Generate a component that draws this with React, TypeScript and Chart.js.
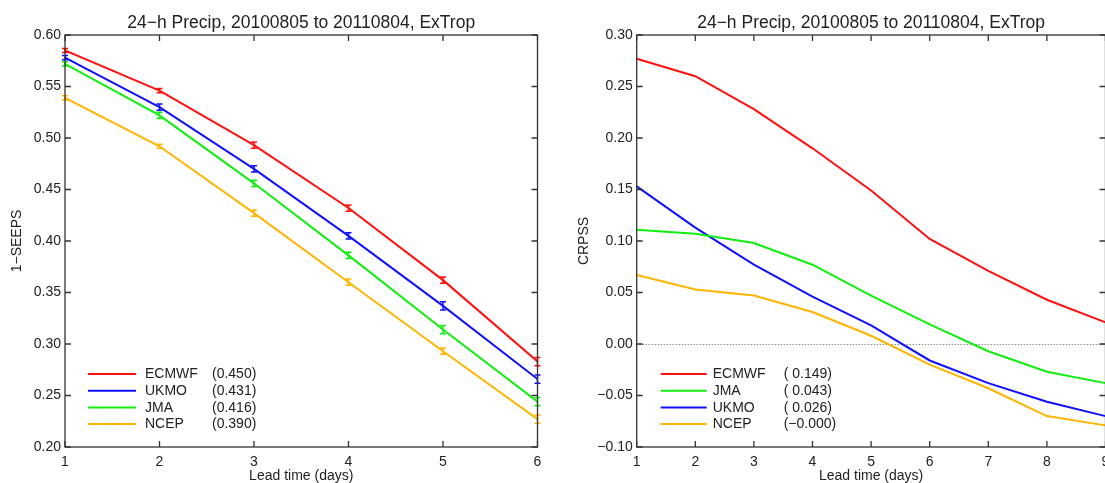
import React, { useEffect, useRef } from "react";
import { Chart, registerables } from "chart.js";

Chart.register(...registerables);

const TITLE = "24\u2212h Precip, 20100805 to 20110804, ExTrop";
const X_TITLE = "Lead time (days)";

// ---------- Left panel: 1-SEEPS ----------
const leadDaysLeft = [1, 2, 3, 4, 5, 6];
const seepsECMWF = [0.585, 0.546, 0.493, 0.432, 0.362, 0.283];
const seepsUKMO = [0.578, 0.53, 0.47, 0.405, 0.337, 0.266];
const seepsJMA = [0.572, 0.522, 0.456, 0.386, 0.314, 0.244];
const seepsNCEP = [0.539, 0.492, 0.427, 0.36, 0.293, 0.227];
const seepsErrECMWF = [0.002, 0.002, 0.003, 0.003, 0.003, 0.004];
const seepsErrUKMO = [0.002, 0.003, 0.003, 0.003, 0.004, 0.004];
const seepsErrJMA = [0.002, 0.003, 0.003, 0.003, 0.004, 0.004];
const seepsErrNCEP = [0.002, 0.002, 0.003, 0.003, 0.003, 0.004];
const seepsNames = ["ECMWF", "UKMO", "JMA", "NCEP"];
const seepsScores = ["(0.450)", "(0.431)", "(0.416)", "(0.390)"];

// ---------- Right panel: CRPSS ----------
const leadDaysRight = [1, 2, 3, 4, 5, 6, 7, 8, 9];
const crpssECMWF = [0.277, 0.26, 0.228, 0.19, 0.149, 0.102, 0.071, 0.043, 0.021];
const crpssJMA = [0.111, 0.107, 0.098, 0.077, 0.047, 0.019, -0.007, -0.027, -0.038];
const crpssUKMO = [0.153, 0.113, 0.077, 0.046, 0.018, -0.016, -0.038, -0.056, -0.07];
const crpssNCEP = [0.067, 0.053, 0.047, 0.031, 0.008, -0.02, -0.043, -0.07, -0.079];
const crpssNames = ["ECMWF", "JMA", "UKMO", "NCEP"];
const crpssScores = ["( 0.149)", "( 0.043)", "( 0.026)", "(\u22120.000)"];

const RED = "#ff1010";
const BLUE = "#1010ff";
const GREEN = "#10ee10";
const ORANGE = "#ffb400";

const FONT = "'Liberation Sans', Arial, Helvetica, sans-serif";
const TEXT = "#222222";
const FRAME = "#333333";

type Series = { name: string; color: string; values: number[]; err?: number[]; score: string };

type PanelSpec = {
  xs: number[];
  series: Series[];
  yMin: number;
  yMax: number;
  yStep: number;
  xMin: number;
  xMax: number;
  yTitle: string;
  yTitleX: number;
  yAxisWidth: number;
  padRight: number;
  zeroLine: boolean;
  legend: { lineX0: number; lineX1: number; nameX: number; scoreX: number };
};

function fmt(v: number): string {
  if (Math.abs(v) < 1e-9) return "0.00";
  const s = v.toFixed(2);
  return s.replace("-", "\u2212");
}

function makePlugin(spec: PanelSpec) {
  return {
    id: "decor",
    beforeDatasetsDraw(chart: any) {
      if (!spec.zeroLine) return;
      const ctx = chart.ctx;
      const { left, right } = chart.chartArea;
      const y = chart.scales.y.getPixelForValue(0);
      ctx.save();
      ctx.strokeStyle = "#555";
      ctx.lineWidth = 1;
      ctx.setLineDash([1, 2]);
      ctx.beginPath();
      ctx.moveTo(left, Math.round(y) + 0.5);
      ctx.lineTo(right, Math.round(y) + 0.5);
      ctx.stroke();
      ctx.restore();
    },
    afterDatasetsDraw(chart: any) {
      const ctx = chart.ctx;
      const xs = chart.scales.x;
      const ys = chart.scales.y;
      const { left, right, top, bottom } = chart.chartArea;
      ctx.save();
      // error bars
      spec.series.forEach((s) => {
        if (!s.err) return;
        ctx.strokeStyle = s.color;
        ctx.lineWidth = 1.5;
        s.values.forEach((v, i) => {
          const px = xs.getPixelForValue(spec.xs[i]);
          const y0 = ys.getPixelForValue(v - s.err![i]);
          const y1 = ys.getPixelForValue(v + s.err![i]);
          ctx.beginPath();
          ctx.moveTo(px, y0);
          ctx.lineTo(px, y1);
          ctx.moveTo(px - 3, y0);
          ctx.lineTo(px + 3, y0);
          ctx.moveTo(px - 3, y1);
          ctx.lineTo(px + 3, y1);
          ctx.stroke();
        });
      });
      // frame
      ctx.strokeStyle = FRAME;
      ctx.lineWidth = 1.3;
      ctx.strokeRect(left, top, right - left, bottom - top);
      // inward ticks
      const TL = 6;
      ctx.beginPath();
      xs.ticks.forEach((t: any) => {
        const px = xs.getPixelForValue(t.value);
        ctx.moveTo(px, bottom);
        ctx.lineTo(px, bottom - TL);
        ctx.moveTo(px, top);
        ctx.lineTo(px, top + TL);
      });
      ys.ticks.forEach((t: any) => {
        const py = ys.getPixelForValue(t.value);
        ctx.moveTo(left, py);
        ctx.lineTo(left + TL, py);
        ctx.moveTo(right, py);
        ctx.lineTo(right - TL, py);
      });
      ctx.stroke();
      // legend
      const lg = spec.legend;
      ctx.font = `14px ${FONT}`;
      ctx.textBaseline = "middle";
      ctx.textAlign = "left";
      spec.series.forEach((s, i) => {
        const y = bottom - 73 + i * 16.7;
        ctx.strokeStyle = s.color;
        ctx.lineWidth = 2;
        ctx.beginPath();
        ctx.moveTo(left + lg.lineX0, y);
        ctx.lineTo(left + lg.lineX1, y);
        ctx.stroke();
        ctx.fillStyle = TEXT;
        ctx.fillText(s.name, left + lg.nameX, y + 0.5);
        ctx.fillText(s.score, left + lg.scoreX, y + 0.5);
      });
      // title
      const cx = (left + right) / 2;
      ctx.fillStyle = TEXT;
      ctx.textAlign = "center";
      ctx.textBaseline = "alphabetic";
      ctx.font = `17.5px ${FONT}`;
      ctx.fillText(TITLE, cx, 28);
      // x title
      ctx.font = `14px ${FONT}`;
      ctx.fillText(X_TITLE, cx, 480);
      // y title
      ctx.save();
      ctx.translate(spec.yTitleX, (top + bottom) / 2);
      ctx.rotate(-Math.PI / 2);
      ctx.textBaseline = "middle";
      ctx.fillText(spec.yTitle, 0, 0);
      ctx.restore();
      ctx.restore();
    },
  };
}

function buildChart(canvas: HTMLCanvasElement, spec: PanelSpec) {
  return new Chart(canvas, {
    type: "line",
    data: {
      datasets: spec.series.map((s) => ({
        label: s.name,
        data: s.values.map((v, i) => ({ x: spec.xs[i], y: v })),
        borderColor: s.color,
        backgroundColor: s.color,
        borderWidth: 2,
        pointRadius: 0,
        tension: 0,
        fill: false,
      })),
    },
    options: {
      responsive: false,
      maintainAspectRatio: false,
      animation: false,
      events: [],
      layout: { padding: { left: 0, right: spec.padRight, top: 35, bottom: 0 } },
      plugins: {
        legend: { display: false },
        title: { display: false },
        tooltip: { enabled: false },
      },
      scales: {
        x: {
          type: "linear",
          min: spec.xMin,
          max: spec.xMax,
          grid: { display: false, drawTicks: false },
          border: { display: false },
          ticks: {
            stepSize: 1,
            padding: 7,
            color: TEXT,
            font: { family: FONT, size: 14 },
            maxRotation: 0,
            autoSkip: false,
            callback: (v: any) => String(v),
          },
          afterFit: (scale: any) => {
            scale.height = 36;
          },
        },
        y: {
          type: "linear",
          min: spec.yMin,
          max: spec.yMax,
          grid: { display: false, drawTicks: false },
          border: { display: false },
          ticks: {
            stepSize: spec.yStep,
            padding: 4,
            color: TEXT,
            font: { family: FONT, size: 14 },
            autoSkip: false,
            callback: (v: any) => fmt(Number(v)),
          },
          afterFit: (scale: any) => {
            scale.width = spec.yAxisWidth;
          },
        },
      },
    },
    plugins: [makePlugin(spec)],
  } as any);
}

const leftSpec: PanelSpec = {
  xs: leadDaysLeft,
  series: [
    { name: seepsNames[0], color: RED, values: seepsECMWF, err: seepsErrECMWF, score: seepsScores[0] },
    { name: seepsNames[1], color: BLUE, values: seepsUKMO, err: seepsErrUKMO, score: seepsScores[1] },
    { name: seepsNames[2], color: GREEN, values: seepsJMA, err: seepsErrJMA, score: seepsScores[2] },
    { name: seepsNames[3], color: ORANGE, values: seepsNCEP, err: seepsErrNCEP, score: seepsScores[3] },
  ],
  yMin: 0.2,
  yMax: 0.6,
  yStep: 0.05,
  xMin: 1,
  xMax: 6,
  yTitle: "1\u2212SEEPS",
  yTitleX: 17,
  yAxisWidth: 65,
  padRight: 22.5,
  zeroLine: false,
  legend: { lineX0: 23, lineX1: 71, nameX: 80, scoreX: 147 },
};

const rightSpec: PanelSpec = {
  xs: leadDaysRight,
  series: [
    { name: crpssNames[0], color: RED, values: crpssECMWF, score: crpssScores[0] },
    { name: crpssNames[1], color: GREEN, values: crpssJMA, score: crpssScores[1] },
    { name: crpssNames[2], color: BLUE, values: crpssUKMO, score: crpssScores[2] },
    { name: crpssNames[3], color: ORANGE, values: crpssNCEP, score: crpssScores[3] },
  ],
  yMin: -0.1,
  yMax: 0.3,
  yStep: 0.05,
  xMin: 1,
  xMax: 9,
  yTitle: "CRPSS",
  yTitleX: 24,
  yAxisWidth: 76.7,
  padRight: 14.5,
  zeroLine: true,
  legend: { lineX0: 24, lineX1: 70, nameX: 76, scoreX: 147 },
};

export default function App() {
  const leftRef = useRef<HTMLCanvasElement | null>(null);
  const rightRef = useRef<HTMLCanvasElement | null>(null);

  useEffect(() => {
    const charts: Chart[] = [];
    if (leftRef.current) charts.push(buildChart(leftRef.current, leftSpec));
    if (rightRef.current) charts.push(buildChart(rightRef.current, rightSpec));
    return () => charts.forEach((c) => c.destroy());
  }, []);

  return (
    <div
      style={{
        position: "fixed",
        left: 0,
        top: 0,
        width: 1105,
        height: 483,
        overflow: "hidden",
        background: "#ffffff",
      }}
    >
      <canvas
        ref={leftRef}
        width={560}
        height={483}
        style={{ position: "absolute", left: 0, top: 0, width: 560, height: 483, display: "block" }}
      />
      <canvas
        ref={rightRef}
        width={560}
        height={483}
        style={{ position: "absolute", left: 560, top: 0, width: 560, height: 483, display: "block" }}
      />
    </div>
  );
}
